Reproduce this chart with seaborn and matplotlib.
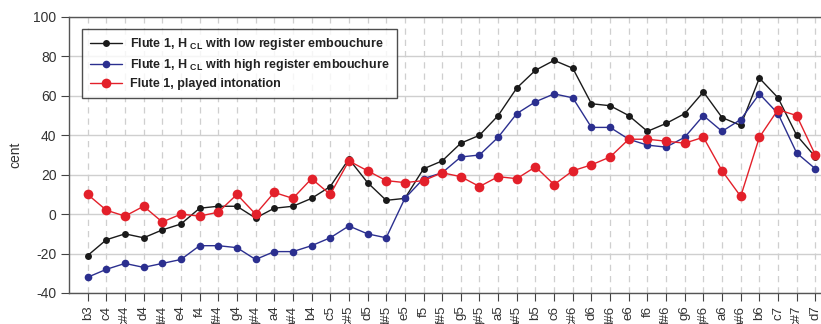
import matplotlib
matplotlib.use("Agg")
import matplotlib.pyplot as plt
import seaborn as sns
import pandas as pd

notes = ["b3", "c4", "c#4", "d4", "d#4", "e4", "f4", "f#4", "g4", "g#4",
         "a4", "a#4", "b4", "c5", "c#5", "d5", "d#5", "e5", "f5", "f#5",
         "g5", "g#5", "a5", "a#5", "b5", "c6", "c#6", "d6", "d#6", "e6",
         "f6", "f#6", "g6", "g#6", "a6", "a#6", "b6", "c7", "c#7", "d7"]

low_register = [-21, -13, -10, -12, -8, -5, 3, 4, 4, -2,
                3, 4, 8, 14, 28, 16, 7, 8, 23, 27,
                36, 40, 50, 64, 73, 78, 74, 56, 55, 50,
                42, 46, 51, 62, 49, 45, 69, 59, 40, 29]

high_register = [-32, -28, -25, -27, -25, -23, -16, -16, -17, -23,
                 -19, -19, -16, -12, -6, -10, -12, 8, 18, 21,
                 29, 30, 39, 51, 57, 61, 59, 44, 44, 38,
                 35, 34, 39, 50, 42, 48, 61, 51, 31, 23]

played = [10, 2, -1, 4, -4, 0, -1, 1, 10, 0,
          11, 8, 18, 10, 27, 22, 17, 16, 17, 21,
          19, 14, 19, 18, 24, 15, 22, 25, 29, 38,
          38, 37, 36, 39, 22, 9, 39, 53, 50, 30]

labels = [
    r"Flute 1, H $_{\mathregular{CL}}$ with low register embouchure",
    r"Flute 1, H $_{\mathregular{CL}}$ with high register embouchure",
    "Flute 1, played intonation",
]
colors = ["#1a1a1a", "#2b2f8f", "#e3202a"]
marker_sizes = [5, 5.5, 7]

sns.set_theme(style="white")
plt.rcParams["font.family"] = ["Liberation Sans", "DejaVu Sans"]
plt.rcParams["mathtext.fontset"] = "custom"
plt.rcParams["mathtext.rm"] = "Liberation Sans"
plt.rcParams["mathtext.bf"] = "Liberation Sans:bold"
plt.rcParams["axes.unicode_minus"] = False

fig = plt.figure(figsize=(8.21, 3.24), dpi=100)
ax = fig.add_axes([69 / 821, 31 / 324, (834 - 69) / 821, (293 - 17) / 324])

pos = list(range(len(notes)))
for vals, lab, col, ms in zip([low_register, high_register, played], labels, colors, marker_sizes):
    df = pd.DataFrame({"pos": pos, "cent": vals})
    sns.lineplot(data=df, x="pos", y="cent", ax=ax, color=col, linewidth=1.0,
                 marker="o", markersize=ms, markeredgewidth=0, label=lab, zorder=3)

ax.set_xlim(-1, len(notes))
ax.set_ylim(-40, 100)
ax.set_yticks(range(-40, 101, 20))
ax.set_xticks(pos)
ax.set_xticklabels(notes, rotation=90, fontsize=9.5, color="#333333")
ax.tick_params(axis="y", labelsize=10, colors="#444444", labelcolor="#333333",
               length=6, width=0.8, direction="out", left=True, pad=3)
ax.tick_params(axis="x", length=6, width=0.8, colors="#444444", labelcolor="#333333",
               direction="out", bottom=True, pad=3)

ax.set_xlabel("")
ax.set_ylabel("cent", fontsize=10, color="#333333", labelpad=8)

ax.yaxis.grid(True, color="#cfcfcf", linewidth=1.0, linestyle="-")
ax.xaxis.grid(True, color="#cfcfcf", linewidth=0.9, linestyle=(0, (5, 4)))
ax.set_axisbelow(True)

for side in ["left", "top", "bottom", "right"]:
    ax.spines[side].set_color("#555555")
    ax.spines[side].set_linewidth(1.0)

leg = ax.legend(loc="upper left", bbox_to_anchor=(0.017, 0.957), borderaxespad=0,
                frameon=True, fancybox=False, edgecolor="#222222",
                prop={"weight": "bold", "size": 9}, borderpad=0.6,
                handlelength=2.6, labelspacing=0.4, handletextpad=0.65)
leg.get_frame().set_linewidth(1.0)
for t in leg.get_texts():
    t.set_color("#222222")

fig.savefig("out.png", dpi=100)
